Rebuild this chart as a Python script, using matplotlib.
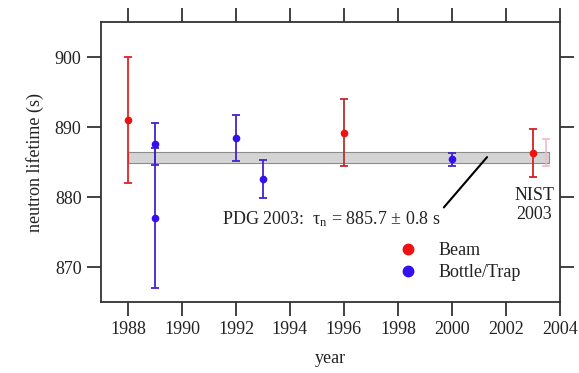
import matplotlib
matplotlib.use("Agg")
import matplotlib.pyplot as plt
from matplotlib.lines import Line2D

plt.rcParams['font.family'] = ['Liberation Serif', 'DejaVu Serif']
plt.rcParams['mathtext.fontset'] = 'custom'
plt.rcParams['mathtext.rm'] = 'Liberation Serif'
plt.rcParams['mathtext.it'] = 'Liberation Serif:italic'

# Beam measurements
beam_year = [1988, 1996, 2003]
beam_tau = [891.0, 889.2, 886.3]
beam_err = [9.0, 4.8, 3.4]
beam_bar_color = ['#e82020', '#b83030', '#d82020']

# Bottle / trap measurements
trap_year = [1989, 1989, 1992, 1993, 2000]
trap_tau = [887.6, 877.0, 888.4, 882.6, 885.4]
trap_err = [3.0, 10.0, 3.3, 2.7, 0.95]

# faded NIST 2003 bar (shifted right)
nist_year = [2003.5]
nist_tau = [886.35]
nist_err = [1.9]

# PDG 2003 average band
pdg_years = [1988, 2003.6]
pdg_tau = 885.7
pdg_err = 0.8

red = '#ee1111'
blue = '#3311ee'

fig = plt.figure(figsize=(5.79, 3.73), dpi=100)
ax = fig.add_axes([0.1744, 0.1903, 0.7927, 0.7507])

ax.fill_between(pdg_years, pdg_tau - pdg_err, pdg_tau + pdg_err,
                facecolor='#d4d4d4', edgecolor='#8c8c8c', linewidth=0.8, zorder=1)

ax.errorbar(nist_year, nist_tau, yerr=nist_err, fmt='none',
            ecolor='#f0b8c8', elinewidth=1.2, capsize=3, capthick=1.2, zorder=2)

for x, y, e, c in zip(beam_year, beam_tau, beam_err, beam_bar_color):
    ax.errorbar([x], [y], yerr=[e], fmt='o', color=red, ecolor=c,
                markersize=4.5, elinewidth=1.3, capsize=3, capthick=1.3, zorder=3)

ax.errorbar(trap_year, trap_tau, yerr=trap_err, fmt='o', color=blue,
            ecolor='#4422cc', markersize=4.5, elinewidth=1.3, capsize=3,
            capthick=1.3, zorder=3)

ax.annotate('PDG 2003:  \u03c4$_\\mathrm{n}$ = 885.7 \u00b1 0.8 s',
            xy=(2001.3, pdg_tau), xytext=(1991.5, 876.8),
            fontsize=13, color='#222222', va='center', ha='left',
            arrowprops=dict(arrowstyle='-', color='black', lw=1.5,
                            shrinkA=0, shrinkB=0,
                            relpos=(0.975, 0.62)))

ax.text(2003.05, 878.8, 'NIST\n2003', fontsize=13, color='#222222',
        ha='center', va='center', linespacing=1.15)

ax.set_xlim(1987, 2004)
ax.set_ylim(865, 905)
ax.set_xticks(range(1988, 2005, 2))
ax.set_yticks([870, 880, 890, 900])

for s in ax.spines.values():
    s.set_linewidth(1.3)
    s.set_color('#333333')
ax.tick_params(direction='out', length=10, width=1.3, color='#333333',
               labelsize=13, labelcolor='#222222', top=True, right=True,
               pad=4)

ax.set_xlabel('year', fontsize=13, color='#222222', labelpad=8)
ax.set_ylabel('neutron lifetime (s)', fontsize=13, color='#222222', labelpad=8)

handles = [
    Line2D([0], [0], marker='o', linestyle='none', color=red,
           markersize=7.5, label='Beam'),
    Line2D([0], [0], marker='o', linestyle='none', color=blue,
           markersize=7.5, label='Bottle/Trap'),
]
ax.legend(handles=handles, loc='center left', bbox_to_anchor=(0.649, 0.145),
          frameon=False, fontsize=13, handlelength=1.0, handletextpad=1.2,
          labelspacing=0.28, borderpad=0, borderaxespad=0, labelcolor='#222222')

fig.savefig('out.png', dpi=100)
